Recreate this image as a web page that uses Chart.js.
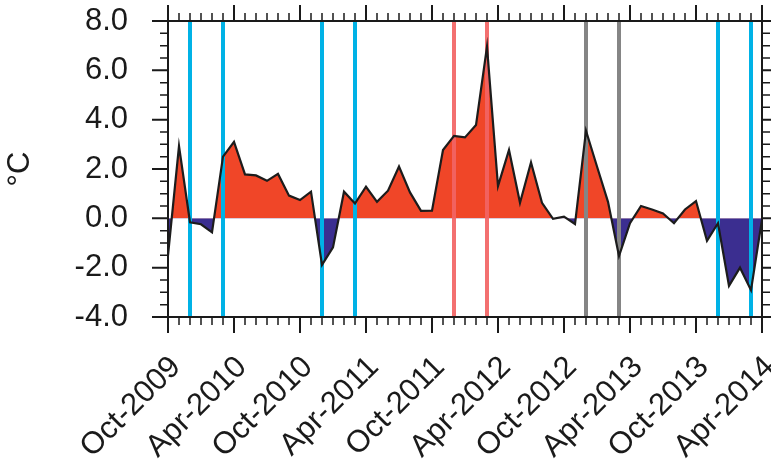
<!DOCTYPE html>
<html>
<head>
<meta charset="utf-8">
<script src="https://cdn.jsdelivr.net/npm/chart.js@4.4.0/dist/chart.umd.min.js"></script>
<style>
  html, body { margin: 0; padding: 0; background: #fff; }
</style>
</head>
<body>
<canvas id="anomChart" width="771" height="459"></canvas>
<script>
/******************************************************
 * DATA
 ******************************************************/
const monthNames = ["Jan", "Feb", "Mar", "Apr", "May", "Jun",
                    "Jul", "Aug", "Sep", "Oct", "Nov", "Dec"];

// monthly categories, Oct-2009 .. Apr-2014
const months = [];
for (let i = 0; i < 55; i++) {
  const m = (9 + i) % 12;
  const yr = 2009 + Math.floor((9 + i) / 12);
  months.push(monthNames[m] + "-" + yr);
}

// temperature anomaly (°C)
const anomalies = [
  -1.50, 2.93, -0.16, -0.24, -0.57, 2.50, 3.10, 1.78, 1.74, 1.52,
   1.80, 0.92, 0.74, 1.08, -1.89, -1.18, 1.08, 0.60, 1.28, 0.67,
   1.12, 2.10, 1.05, 0.30, 0.31, 2.77, 3.34, 3.28, 3.78, 6.96,
   1.31, 2.77, 0.63, 2.27, 0.63, -0.02, 0.07, -0.23, 3.55, 2.10,
   0.67, -1.53, -0.20, 0.50, 0.36, 0.20, -0.20, 0.36, 0.70, -0.91,
  -0.20, -2.74, -2.00, -2.91, -0.05
];

const yTicks = [-4, -2, 0, 2, 4, 6, 8];

// marked months (vertical lines)
const blueEvents = ["Dec-2009", "Mar-2010", "Dec-2010", "Mar-2011", "Dec-2013", "Mar-2014"];
const redEvents  = ["Dec-2011", "Mar-2012"];
const grayEvents = ["Dec-2012", "Mar-2013"];


/******************************************************
 * PLUGINS
 ******************************************************/
const eventLines = {
  id: "eventLines",
  beforeDatasetsDraw(chart) {
    const { ctx, chartArea: a, scales: { x } } = chart;
    const groups = [
      [blueEvents, "#00b2e6"],
      [redEvents, "rgba(242, 100, 100, 0.92)"],
      [grayEvents, "#858585"]
    ];
    ctx.save();
    ctx.lineWidth = 4;
    groups.forEach(([list, color]) => {
      ctx.strokeStyle = color;
      list.forEach(label => {
        const px = x.getPixelForValue(months.indexOf(label));
        ctx.beginPath();
        ctx.moveTo(px, a.top);
        ctx.lineTo(px, a.bottom);
        ctx.stroke();
      });
    });
    ctx.restore();
  }
};

const frameTicks = {
  id: "frameTicks",
  afterDraw(chart) {
    const { ctx, chartArea: a, scales: { x, y } } = chart;
    ctx.save();
    ctx.strokeStyle = "#1a1a1a";
    ctx.lineWidth = 2;
    ctx.strokeRect(a.left, a.top, a.right - a.left, a.bottom - a.top);

    months.forEach((m, i) => {
      const px = x.getPixelForValue(i);
      const len = i % 6 === 0 ? 16 : 8;
      ctx.lineWidth = i % 6 === 0 ? 2 : 1.5;
      ctx.beginPath();
      ctx.moveTo(px, a.bottom); ctx.lineTo(px, a.bottom + len);
      ctx.moveTo(px, a.top);    ctx.lineTo(px, a.top - len);
      ctx.stroke();
    });

    for (let v = -4; v <= 8; v += 0.5) {
      const py = y.getPixelForValue(v);
      const major = v % 2 === 0;
      const len = major ? 16 : 8;
      ctx.lineWidth = major ? 2 : 1.5;
      ctx.beginPath();
      ctx.moveTo(a.left, py);  ctx.lineTo(a.left - len, py);
      ctx.moveTo(a.right, py); ctx.lineTo(a.right + len, py);
      ctx.stroke();
    }
    ctx.restore();
  }
};


/******************************************************
 * CHART
 ******************************************************/
const tickFont = { family: "'Liberation Sans', Arial, sans-serif", size: 31 };

new Chart(document.getElementById("anomChart"), {
  type: "line",
  data: {
    labels: months,
    datasets: [{
      data: anomalies,
      borderColor: "#1c1c1c",
      borderWidth: 2.2,
      pointRadius: 0,
      tension: 0,
      fill: {
        target: "origin",
        above: "#f04628",
        below: "#3b2e90"
      }
    }]
  },
  options: {
    responsive: false,
    animation: false,
    layout: { padding: { left: 0, right: 9, top: 21, bottom: 0 } },
    plugins: {
      legend: { display: false },
      tooltip: { enabled: false },
      filler: { drawTime: "beforeDatasetsDraw" }
    },
    scales: {
      x: {
        type: "category",
        offset: false,
        grid: { display: false, drawTicks: false },
        border: { display: false },
        ticks: {
          autoSkip: false,
          maxRotation: 45,
          minRotation: 45,
          padding: 32,
          labelOffset: 8,
          color: "#1a1a1a",
          font: tickFont,
          callback: (v, i) => (i % 6 === 0 ? months[i] : "")
        },
        afterFit(scale) {
          scale.height = 142;
          scale.paddingLeft = 0;
          scale.paddingRight = 0;
        }
      },
      y: {
        min: -4,
        max: 8,
        grid: { display: false, drawTicks: false },
        border: { display: false },
        afterBuildTicks(scale) {
          scale.ticks = yTicks.map(v => ({ value: v }));
        },
        ticks: {
          padding: 40,
          color: "#1a1a1a",
          font: tickFont,
          callback: v => v.toFixed(1)
        },
        title: {
          display: true,
          text: "°C",
          color: "#1a1a1a",
          font: tickFont,
          padding: { top: 2, bottom: 0 }
        },
        afterFit(scale) {
          scale.width = 168;
          scale.paddingTop = 0;
          scale.paddingBottom = 0;
        }
      }
    }
  },
  plugins: [eventLines, frameTicks]
});
</script>
</body>
</html>
